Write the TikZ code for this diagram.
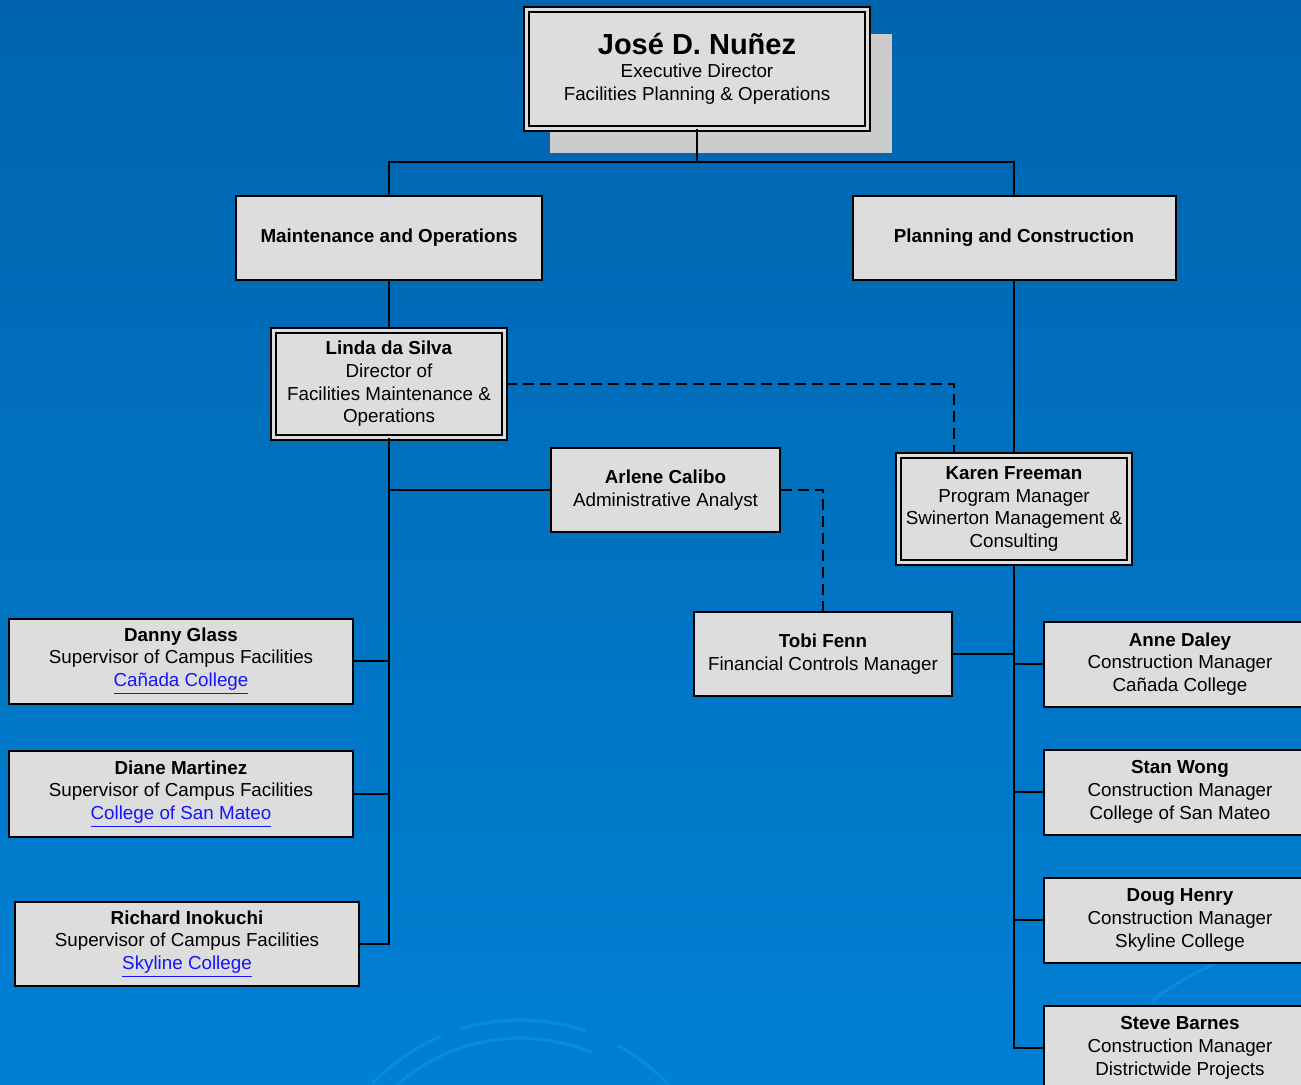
\documentclass[tikz,border=0pt]{standalone}
\usepackage{fontspec}
\setmainfont{Liberation Sans}
\usetikzlibrary{positioning}
\usetikzlibrary{shadows}

\definecolor{boxgray}{HTML}{DDDDDD}
\definecolor{shadowgray}{HTML}{CCCCCC}
\definecolor{bgtop}{HTML}{0064AE}
\definecolor{bgbottom}{HTML}{0080D3}
\definecolor{swirl}{HTML}{0A88E2}
\definecolor{linkblue}{HTML}{1414FF}

\newcommand{\weblink}[1]{\textcolor{linkblue}{\underline{#1}}}

\begin{document}
\begin{tikzpicture}[
  x=0.5pt, y=-0.5pt,
  staff/.style={rectangle, draw, line width=1pt, fill=boxgray, inner sep=0pt, align=center, font=\fontsize{9.4}{11.35}\selectfont},
  chief/.style={staff, line width=0.9pt, double=boxgray, double distance=1.6pt},
  unit/.style={staff, font=\fontsize{9.4}{11.35}\selectfont\bfseries},
  link/.style={line width=0.8pt},
  dashlink/.style={link, dash pattern=on 5.5pt off 3pt},
  swirlline/.style={draw=swirl, line width=1.6pt}
]

\useasboundingbox (0,0) rectangle (1301,1085);
\clip (0,0) rectangle (1301,1085);

% Background
\shade[top color=bgtop, bottom color=bgbottom] (0,0) rectangle (1301,1085);
\draw[swirlline] (520,1222) ++(223:202) arc[start angle=223, end angle=247, radius=202];
\draw[swirlline] (520,1222) ++(253:202) arc[start angle=253, end angle=289, radius=202];
\draw[swirlline] (520,1222) ++(299:202) arc[start angle=299, end angle=330, radius=202];
\draw[swirlline] (520,1222) ++(228:184) arc[start angle=228, end angle=293, radius=184];
\draw[swirlline] (1330,1230) ++(232:290) arc[start angle=232, end angle=262, radius=290];

% Director
\node[chief, drop shadow={shadow xshift=12pt, shadow yshift=-12.5pt, fill=shadowgray, opacity=1},
      minimum width=170.6pt, minimum height=59.5pt] (nunez) at (697,69) {
  {\fontsize{14.5}{17}\selectfont\bfseries José D. Nuñez}\\
  Executive Director\\
  Facilities Planning \& Operations
};

% Departments
\node[unit, minimum width=153pt, minimum height=42pt] (maint) at (389,238) {Maintenance and Operations};
\node[unit, minimum width=161.5pt, minimum height=42pt] (plan) at (1014,238) {Planning and Construction};

% Maintenance side
\node[chief, minimum width=115.6pt, minimum height=53.6pt] (silva) at (389,384) {
  \textbf{Linda da Silva}\\
  Director of\\
  Facilities Maintenance \&\\
  Operations
};

\node[staff, minimum width=114.5pt, minimum height=42pt] (calibo) at (665.5,490) {
  \textbf{Arlene Calibo}\\
  Administrative Analyst
};

\node[staff, minimum width=172pt, minimum height=42.5pt] (glass) at (181,661) {
  \textbf{Danny Glass}\\
  Supervisor of Campus Facilities\\
  \weblink{Cañada College}
};

\node[staff, minimum width=172pt, minimum height=43pt, below=22.75pt of glass] (martinez) {
  \textbf{Diane Martinez}\\
  Supervisor of Campus Facilities\\
  \weblink{College of San Mateo}
};

\node[staff, minimum width=172pt, minimum height=42pt] (inokuchi) at (187,944) {
  \textbf{Richard Inokuchi}\\
  Supervisor of Campus Facilities\\
  \weblink{Skyline College}
};

% Planning side
\node[chief, minimum width=115.6pt, minimum height=53.6pt] (freeman) at (1014,509) {
  \textbf{Karen Freeman}\\
  Program Manager\\
  Swinerton Management \&\\
  Consulting
};

\node[staff, minimum width=129pt, minimum height=42pt] (fenn) at (823,654) {
  \textbf{Tobi Fenn}\\
  Financial Controls Manager
};

\node[staff, minimum width=136pt, minimum height=42.5pt] (daley) at (1180,664) {
  \textbf{Anne Daley}\\
  Construction Manager\\
  Cañada College
};

\node[staff, minimum width=136pt, minimum height=42.5pt, below=20.5pt of daley] (wong) {
  \textbf{Stan Wong}\\
  Construction Manager\\
  College of San Mateo
};

\node[staff, minimum width=136pt, minimum height=42.5pt, below=20.5pt of wong] (henry) {
  \textbf{Doug Henry}\\
  Construction Manager\\
  Skyline College
};

\node[staff, minimum width=136pt, minimum height=42.5pt, below=20.5pt of henry] (barnes) {
  \textbf{Steve Barnes}\\
  Construction Manager\\
  Districtwide Projects
};

% Reporting lines
\coordinate (fork) at (697,162);
\draw[link] (nunez) -- (fork);
\draw[link] (maint.north) |- (fork) -| (plan.north);

\draw[link] (maint) -- (silva);
\draw[link] (silva.south) |- (inokuchi.east);
\draw[link] (calibo.west) -- (calibo.west -| silva.south);
\draw[link] (glass.east) -- (glass.east -| silva.south);
\draw[link] (martinez.east) -- (martinez.east -| silva.south);

\draw[link] (plan) -- (freeman);
\draw[link] (freeman.south) |- (barnes.west);
\draw[link] (fenn.east) -- (fenn.east -| freeman.south);
\draw[link] (daley.west) -- (daley.west -| freeman.south);
\draw[link] (wong.west) -- (wong.west -| freeman.south);
\draw[link] (henry.west) -- (henry.west -| freeman.south);

% Dotted-line reporting
\draw[dashlink] (silva.east) -| ([xshift=-30pt]freeman.north);
\draw[dashlink] (calibo.east) -| (fenn.north);

\end{tikzpicture}
\end{document}
